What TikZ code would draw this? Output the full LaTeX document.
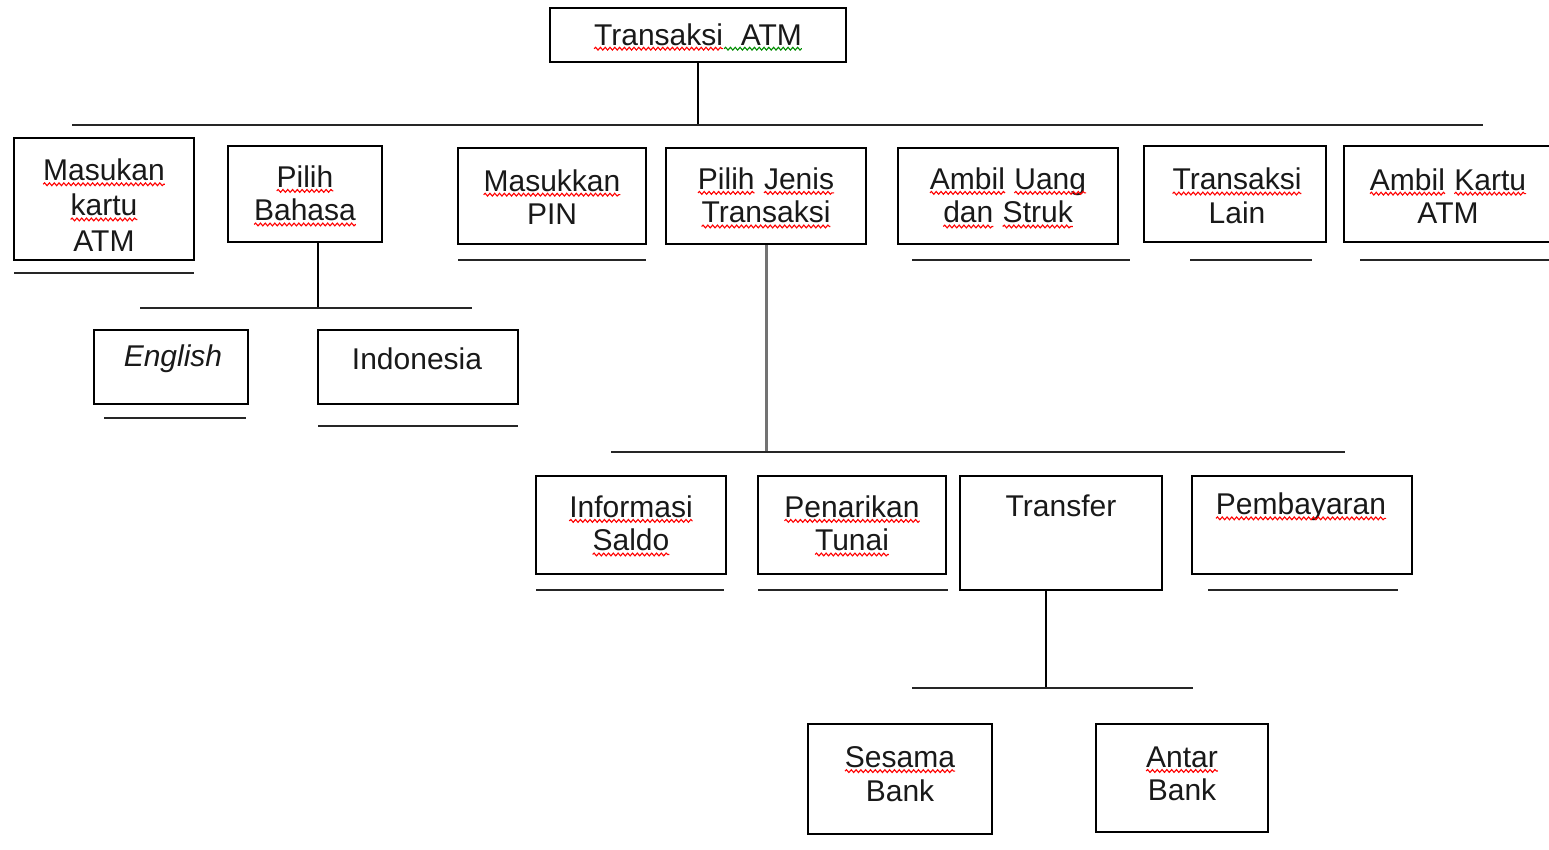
\documentclass[tikz,border=0pt]{standalone}
\usepackage{fontspec}
\setmainfont{Liberation Sans}
\usetikzlibrary{calc,decorations.pathmorphing}
\newcommand\sq[2][red]{\tikz[baseline=(w.base),x=1pt,y=1pt]{\node[inner sep=0pt,outer sep=0pt](w){#2};\draw[#1,line width=0.55pt,decorate,decoration={snake,amplitude=0.7pt,segment length=2.4pt}] ([yshift=-1.8pt]w.base west) -- ([yshift=-1.8pt]w.base east);}}
\begin{document}
\begin{tikzpicture}[x=0.5pt,y=-0.5pt,
  box/.style={draw=black,line width=1pt,rectangle,inner sep=0pt},
  txt/.style={inner sep=0pt,align=center,font=\fontsize{15}{16.8}\selectfont,text=black!90},
  ln/.style={draw=black!85,line width=1pt},
  conn/.style={draw=black,line width=1pt},
  gconn/.style={draw=black!55,line width=1.5pt}]
\useasboundingbox (0,0) rectangle (1549,850);
% boxes
\node[box,minimum width=148pt,minimum height=27pt] (top) at (698,35) {};
\node[box,minimum width=90pt,minimum height=61pt] (mk) at (104,199) {};
\node[box,minimum width=77pt,minimum height=48pt] (pb) at (305,194) {};
\node[box,minimum width=77pt,minimum height=37pt] (en) at (171,367) {};
\node[box,minimum width=100pt,minimum height=37pt] (id) at (418,367) {};
\node[box,minimum width=94pt,minimum height=48pt] (pin) at (552,196) {};
\node[box,minimum width=100pt,minimum height=48pt] (pj) at (766,196) {};
\node[box,minimum width=110pt,minimum height=48pt] (au) at (1008,196) {};
\node[box,minimum width=91pt,minimum height=48pt] (tl) at (1235,194) {};
\node[box,minimum width=108pt,minimum height=48pt] (ak) at (1452,194) {};
\node[box,minimum width=95pt,minimum height=49pt] (is) at (631,525) {};
\node[box,minimum width=94pt,minimum height=49pt] (pt) at (852,525) {};
\node[box,minimum width=101pt,minimum height=57pt] (tr) at (1061,533) {};
\node[box,minimum width=110pt,minimum height=49pt] (pm) at (1302,525) {};
\node[box,minimum width=92pt,minimum height=55pt] (sb) at (900,779) {};
\node[box,minimum width=86pt,minimum height=54pt] (ab) at (1182,778) {};
% texts
\node[txt] (ttop) at (698,37) {\sq{Transaksi}\sq[green!55!black]{\ \ ATM}};
\node[txt] (tmk) at (104,205) {\sq{Masukan}\\[0.8pt]\sq{kartu}\\[0.8pt]ATM};
\node[txt] (tpb) at (305,196) {\sq{Pilih}\\\sq{Bahasa}};
\node[txt] (ten) at (173,359) {\textit{English}};
\node[txt] (tid) at (417,359) {Indonesia};
\node[txt] (tpin) at (552,197) {\sq{Masukkan}\\PIN};
\node[txt] (tpj) at (766,198) {\sq{Pilih} \sq{Jenis}\\\sq{Transaksi}};
\node[txt] (tau) at (1008,198) {\sq{Ambil} \sq{Uang}\\\sq{dan} \sq{Struk}};
\node[txt] (ttl) at (1237,196) {\sq{Transaksi}\\Lain};
\node[txt] (tak) at (1448,196) {\sq{Ambil} \sq{Kartu}\\ATM};
\node[txt] (tis) at (631,526) {\sq{Informasi}\\\sq{Saldo}};
\node[txt] (tpt) at (852,526) {\sq{Penarikan}\\\sq{Tunai}};
\node[txt] (ttr) at (1061,506) {Transfer};
\node[txt] (tpm) at (1301,507) {\sq{Pembayaran}};
\node[txt] (tsb) at (900,774) {\sq{Sesama}\\Bank};
\node[txt] (tab) at (1182,774) {\sq{Antar}\\Bank};
% bus coordinates
\coordinate (b1L) at (72,125);
\coordinate (b1R) at (1483,125);
\coordinate (b2L) at (140,308);
\coordinate (b2R) at (472,308);
\coordinate (b3L) at (611,452);
\coordinate (b3R) at (1345,452);
\coordinate (b4L) at (912,688);
\coordinate (b4R) at (1193,688);
\coordinate (pbs) at (318,242);
\coordinate (trs) at (1046,590);
% connectors
\draw[conn] (top.south) -- (top.south |- b1L);
\draw[ln] (b1L) -- (b1R);
\draw[conn] (pbs) -- (pbs |- b2L);
\draw[ln] (b2L) -- (b2R);
\draw[gconn] (pj.south) -- (pj.south |- b3L);
\draw[ln] (b3L) -- (b3R);
\draw[conn] (trs) -- (trs |- b4L);
\draw[ln] (b4L) -- (b4R);
% underlines
\draw[ln] (14,273) -- (194,273);
\draw[ln] (104,418) -- (246,418);
\draw[ln] (318,426) -- (518,426);
\draw[ln] (458,260) -- (646,260);
\draw[ln] (912,260) -- (1130,260);
\draw[ln] (1190,260) -- (1312,260);
\draw[ln] (1360,260) -- (1549,260);
\draw[ln] (536,590) -- (724,590);
\draw[ln] (758,590) -- (948,590);
\draw[ln] (1208,590) -- (1398,590);
\end{tikzpicture}
\end{document}
